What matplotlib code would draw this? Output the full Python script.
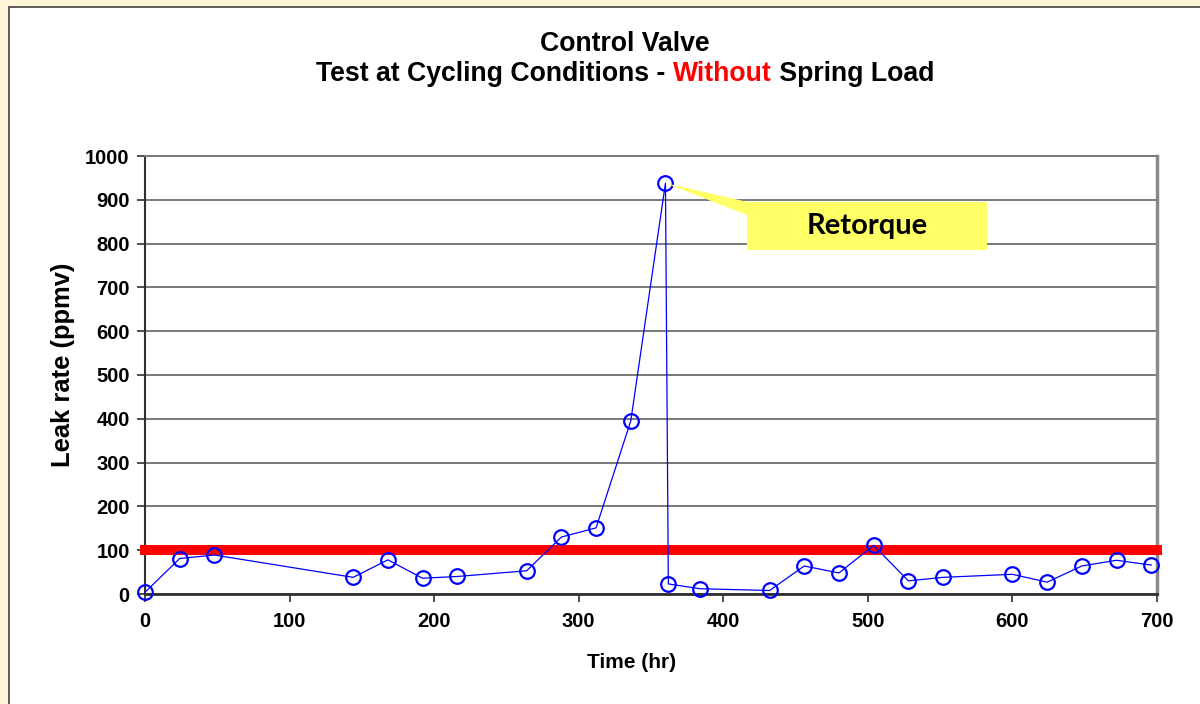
import matplotlib
matplotlib.use("Agg")
import matplotlib.pyplot as plt
from matplotlib.patches import Rectangle, Polygon

# leak rate readings over the cycling test
time_hr = [0, 24, 48, 144, 168, 192, 216, 264, 288, 312, 336, 360, 362,
           384, 432, 456, 480, 504, 528, 552, 600, 624, 648, 672, 696]
leak_ppmv = [4, 81, 89, 38, 78, 36, 40, 53, 130, 151, 395, 938, 23,
             12, 8, 64, 48, 111, 30, 38, 45, 27, 64, 77, 66]
limit_ppmv = 100
x_ticks = [0, 100, 200, 300, 400, 500, 600, 700]
y_ticks = [0, 100, 200, 300, 400, 500, 600, 700, 800, 900, 1000]
retorque_idx = 11

plt.rcParams['font.family'] = ['Liberation Sans', 'DejaVu Sans']
plt.rcParams['font.weight'] = 'bold'

W, H = 1200, 704
fig = plt.figure(figsize=(12, 7.04), dpi=100)
fig.patch.set_facecolor('#FEF5D8')

# white chart panel with dark border (runs off the right/bottom edge)
fig.patches.append(Rectangle((9 / W, -0.1), 1.1, 0.1 + (H - 7) / H,
                             transform=fig.transFigure, facecolor='white',
                             edgecolor='#404040', linewidth=1.2, zorder=-5))

ax = fig.add_axes([145 / W, 1 - 594 / H, (1157 - 145) / W, (594 - 156) / H])
ax.set_zorder(2)
ax.set_facecolor('white')
ax.set_xlim(0, 700)
ax.set_ylim(0, 1000)
ax.set_xticks(x_ticks)
ax.set_yticks(y_ticks)
ax.tick_params(axis='both', labelsize=14.5, length=6, width=1.2, color='#303030')
ax.tick_params(axis='x', pad=7)
ax.tick_params(axis='y', pad=5)
for lab in ax.get_xticklabels() + ax.get_yticklabels():
    lab.set_fontweight('bold')

ax.yaxis.grid(True, color='#7a7a7a', linewidth=1.4)
ax.set_axisbelow(True)
ax.spines['left'].set_color('#303030')
ax.spines['left'].set_linewidth(1.5)
ax.spines['bottom'].set_color('#303030')
ax.spines['bottom'].set_linewidth(2)
ax.spines['top'].set_color('#7a7a7a')
ax.spines['top'].set_linewidth(1.4)
ax.spines['right'].set_color('#8a8a8a')
ax.spines['right'].set_linewidth(2.5)

# limit line
ax.axhline(limit_ppmv, color='#FF0000', linewidth=7.2, zorder=3, clip_on=False)

ax.plot(time_hr, leak_ppmv, color='#0000FF', linewidth=0.9, marker='o',
        markersize=10.5, markerfacecolor='none', markeredgecolor='#0000FF',
        markeredgewidth=1.6, zorder=4, clip_on=False)

# callout
px, py = time_hr[retorque_idx], leak_ppmv[retorque_idx]
ax.add_patch(Polygon([(px, py), (430, 885), (430, 848)], closed=True,
                     facecolor='#FFFF66', edgecolor='none', zorder=5))
ax.add_patch(Rectangle((416.4, 785), 166, 110, facecolor='#FFFF66',
                       edgecolor='none', zorder=5))
ax.text(499.5, 840, 'Retorque', ha='center', va='center', fontsize=21,
        fontweight='bold', family=['Lato', 'DejaVu Sans'], color='black', zorder=6)

ax.set_xlabel('Time (hr)', fontsize=15, fontweight='bold')
ax.xaxis.set_label_coords((632 - 145) / 1012, (594 - 653) / 438)
ax.set_ylabel('Leak rate (ppmv)', fontsize=18.4, fontweight='bold')
ax.yaxis.set_label_coords((75 - 145) / 1012, (594 - 365) / 438)

# title, two lines, middle word in red
fig.text(625 / W, 1 - 44 / H, 'Control Valve', ha='center', va='center',
         fontsize=19.2, fontweight='bold')
pieces = [('Test at Cycling Conditions - ', 'black'), ('Without', '#FF0000'),
          (' Spring Load', 'black')]
renderer = fig.canvas.get_renderer()
texts = []
for s, c in pieces:
    t = fig.text(0, 1 - 74 / H, s, ha='left', va='center', fontsize=19.2,
                 fontweight='bold', color=c)
    texts.append(t)
widths = [t.get_window_extent(renderer).width for t in texts]
x0 = 625 - sum(widths) / 2
for t, w in zip(texts, widths):
    t.set_x(x0 / W)
    x0 += w

fig.savefig('out.png', dpi=100, facecolor=fig.get_facecolor())
